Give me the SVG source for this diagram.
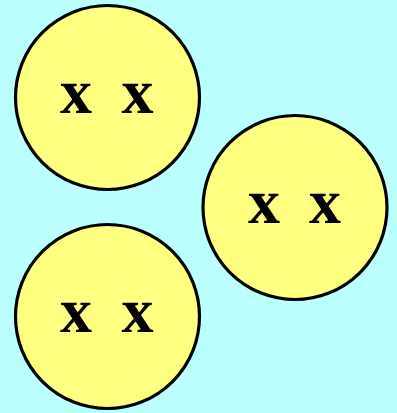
<svg xmlns="http://www.w3.org/2000/svg" width="397" height="413" viewBox="0 0 397 413">
<style>
.n circle{fill:#ffff80;stroke:#000;stroke-width:3.2}
.n text{font-family:"Liberation Serif","Times New Roman",serif;font-weight:bold;font-size:64px;text-anchor:middle;fill:#000}
</style>
<rect width="397" height="413" fill="#bbffff"/>
<g id="connectors"/>
<g id="node1" class="n"><circle cx="107.5" cy="97.5" r="92"/><text x="76 107 137.5" y="113">x x</text></g>
<g id="node2" class="n"><circle cx="295" cy="207.5" r="92"/><text x="264 295 325" y="223">x x</text></g>
<g id="node3" class="n"><circle cx="107.5" cy="316.5" r="92"/><text x="76 107 137.5" y="332">x x</text></g>
</svg>
